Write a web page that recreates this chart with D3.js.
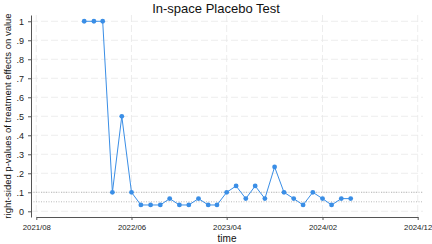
<!DOCTYPE html>
<html>
<head>
<meta charset="utf-8">
<script src="https://cdn.jsdelivr.net/npm/d3@7"></script>
<style>
  body { margin: 0; background: #fff; }
  text { font-family: "Liberation Sans", Arial, Helvetica, sans-serif; }
</style>
</head>
<body>
<div class="chart"></div>
<script>
// Monthly p-values, Jan 2022 .. May 2024
const months = ["2022-01","2022-02","2022-03","2022-04","2022-05","2022-06","2022-07","2022-08","2022-09","2022-10",
  "2022-11","2022-12","2023-01","2023-02","2023-03","2023-04","2023-05","2023-06","2023-07","2023-08",
  "2023-09","2023-10","2023-11","2023-12","2024-01","2024-02","2024-03","2024-04","2024-05"];
const pvalues = [1, 1, 1, 0.1, 0.5, 0.1, 0.0333, 0.0333, 0.0333, 0.0667,
  0.0333, 0.0333, 0.0667, 0.0333, 0.0333, 0.1, 0.1333, 0.0667, 0.1333, 0.0667,
  0.2333, 0.1, 0.0667, 0.0333, 0.1, 0.0667, 0.0333, 0.0667, 0.0667];
const xTickLabels = ["2021/08", "2022/06", "2023/04", "2024/02", "2024/12"];
const yTicks = [0, 0.1, 0.2, 0.3, 0.4, 0.5, 0.6, 0.7, 0.8, 0.9, 1];
const refLines = [0.1, 0.05];

const width = 432, height = 244;
const margin = { top: 15, right: 9, bottom: 27, left: 31 };
const innerW = width - margin.left - margin.right;
const innerH = height - margin.top - margin.bottom;

const parseMonth = d3.timeParse("%Y-%m");
const parseTick = d3.timeParse("%Y/%m");
const data = months.map((m, i) => ({ date: parseMonth(m), p: pvalues[i] }));
const tickDates = xTickLabels.map(parseTick);

const svg = d3.select(".chart").append("svg")
    .attr("width", width)
    .attr("height", height);

const g = svg.append("g")
    .attr("transform", "translate(" + margin.left + "," + margin.top + ")");

// first and last tick sit a few px inside the plot region
const x = d3.scaleTime()
    .domain([tickDates[0], tickDates[4]])
    .range([5.3, innerW - 5.3]);
const y = d3.scaleLinear()
    .domain([-0.03, 1.033])
    .range([innerH, 0]);

// grid
g.selectAll(".hgrid")
    .data(yTicks)
    .join("line")
    .attr("class", "hgrid")
    .attr("x1", 0).attr("x2", innerW)
    .attr("y1", d => y(d)).attr("y2", d => y(d))
    .attr("stroke", "#e8e8e8")
    .attr("stroke-width", 0.8)
    .attr("stroke-dasharray", "7,3");
g.selectAll(".vgrid")
    .data(tickDates)
    .join("line")
    .attr("class", "vgrid")
    .attr("x1", d => x(d)).attr("x2", d => x(d))
    .attr("y1", 0).attr("y2", innerH)
    .attr("stroke", "#e8e8e8")
    .attr("stroke-width", 0.8)
    .attr("stroke-dasharray", "7,3");

// reference lines
g.selectAll(".ref")
    .data(refLines)
    .join("line")
    .attr("class", "ref")
    .attr("x1", 0).attr("x2", innerW)
    .attr("y1", d => y(d)).attr("y2", d => y(d))
    .attr("stroke", "#a8a8a8")
    .attr("stroke-width", 0.8)
    .attr("stroke-dasharray", "1,1.5");

// axes
const xAxis = d3.axisBottom(x)
    .tickValues(tickDates)
    .tickFormat(d3.timeFormat("%Y/%m"))
    .tickSize(3)
    .tickSizeOuter(0);
const yAxis = d3.axisLeft(y)
    .tickValues(yTicks)
    .tickFormat(d => d === 0 ? "0" : d === 1 ? "1" : d3.format(".1f")(d).replace(/^0/, ""))
    .tickSize(3)
    .tickSizeOuter(0);

const gx = g.append("g")
    .attr("transform", "translate(0," + innerH + ")")
    .call(xAxis);
gx.select(".domain").attr("stroke", "#555");
gx.selectAll(".tick line").attr("stroke", "#555");
gx.selectAll("text").attr("font-size", 7.8).attr("fill", "#222").attr("dy", "0.95em");

const gy = g.append("g").call(yAxis);
gy.select(".domain").attr("stroke", "#555");
gy.selectAll(".tick line").attr("stroke", "#555");
gy.selectAll("text").attr("font-size", 9).attr("fill", "#222").attr("dx", "-0.1em");

// series
const blue = "#3a8ee6";
g.append("path")
    .datum(data)
    .attr("fill", "none")
    .attr("stroke", blue)
    .attr("stroke-width", 1)
    .attr("d", d3.line().x(d => x(d.date)).y(d => y(d.p)));

g.selectAll(".dot")
    .data(data)
    .join("circle")
    .attr("class", "dot")
    .attr("cx", d => x(d.date))
    .attr("cy", d => y(d.p))
    .attr("r", 2.4)
    .attr("fill", blue);

// title and labels
svg.append("text")
    .attr("x", width / 2)
    .attr("y", 13)
    .attr("text-anchor", "middle")
    .attr("font-size", 13)
    .attr("fill", "#111")
    .text("In-space Placebo Test");

svg.append("text")
    .attr("x", margin.left + innerW / 2)
    .attr("y", 242)
    .attr("text-anchor", "middle")
    .attr("font-size", 10)
    .attr("fill", "#111")
    .text("time");

svg.append("text")
    .attr("transform", "rotate(-90)")
    .attr("x", -(margin.top + innerH / 2))
    .attr("y", 11)
    .attr("text-anchor", "middle")
    .attr("font-size", 9.5)
    .attr("fill", "#111")
    .text("right-sided p-values of treatment effects on value");
</script>
</body>
</html>
